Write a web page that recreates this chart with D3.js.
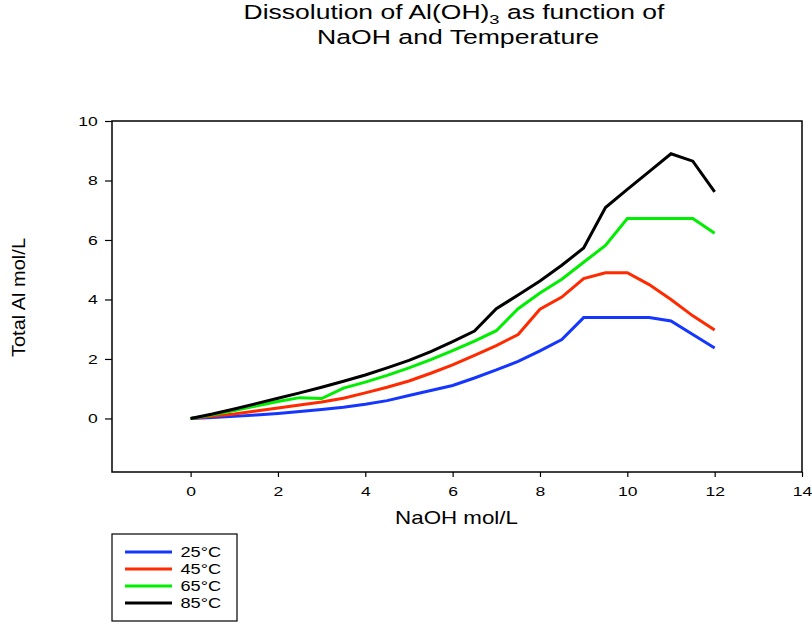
<!DOCTYPE html>
<html><head><meta charset="utf-8">
<script src="https://cdn.jsdelivr.net/npm/d3@7/dist/d3.min.js"></script>
<style>body{margin:0;background:#fff}svg{display:block}text{font-family:"Liberation Sans",Arial,sans-serif;fill:#000}</style>
</head><body>
<svg id="c" width="812" height="625"></svg>
<script>
const naoh = [0,0.5,1,1.5,2,2.5,3,3.5,4,4.5,5,5.5,6,6.5,7,7.5,8,8.5,9,9.5,10,10.5,11,11.5,12];
const t25 = [0,0.03,0.07,0.12,0.17,0.23,0.3,0.38,0.48,0.6,0.77,0.94,1.11,1.36,1.63,1.92,2.27,2.65,3.39,3.39,3.39,3.39,3.28,2.82,2.37];
const t45 = [0,0.07,0.15,0.25,0.35,0.45,0.55,0.68,0.86,1.05,1.26,1.52,1.8,2.12,2.45,2.82,3.67,4.08,4.7,4.9,4.9,4.5,4.0,3.45,2.97];
const t65 = [0,0.12,0.27,0.42,0.57,0.7,0.67,1.02,1.22,1.45,1.7,1.98,2.28,2.6,2.95,3.69,4.22,4.68,5.25,5.82,6.72,6.72,6.72,6.72,6.23];
const t85 = [0,0.15,0.32,0.5,0.68,0.86,1.05,1.25,1.46,1.7,1.95,2.25,2.58,2.94,3.69,4.15,4.62,5.15,5.73,7.09,7.7,8.3,8.9,8.65,7.62];
const seriesNames = ["25°C","45°C","65°C","85°C"];
const seriesColors = ["#1436ff","#ff2a00","#00ee00","#000000"];
const xTicks = [0,2,4,6,8,10,12,14];
const yTicks = [0,2,4,6,8,10];

const series = [t25,t45,t65,t85];
const svg = d3.select("#c");
const L=112,R=802,T=121,B=472;
const SX = 1.3; // horizontal stretch of the reference's lettering
const x = d3.scaleLinear().domain([-1.8,14]).range([L,R]);
const y = d3.scaleLinear().domain([-1.8,10]).range([B,T]);

// frame
svg.append("rect").attr("x",L).attr("y",T).attr("width",R-L).attr("height",B-T)
  .attr("fill","none").attr("stroke","#000").attr("stroke-width",1.5);

const xa = svg.append("g").attr("transform",`translate(0,${B})`)
  .call(d3.axisBottom(x).tickValues(xTicks).tickSize(5).tickSizeOuter(0).tickPadding(9));
const ya = svg.append("g").attr("transform",`translate(${L},0)`)
  .call(d3.axisLeft(y).tickValues(yTicks).tickSize(7).tickSizeOuter(0).tickPadding(4));
[xa,ya].forEach(a=>{
  a.select(".domain").remove();
  a.selectAll("line").attr("stroke","#000").attr("stroke-width",1.2);
  a.selectAll("text").attr("font-size",13.5).attr("font-family","Liberation Sans, Arial, sans-serif").attr("fill","#000")
    .attr("transform",`scale(${SX},1)`);
});

const line = d3.line().x((d,i)=>x(naoh[i])).y(d=>y(d));
series.forEach((s,k)=>{
  svg.append("path").datum(s).attr("d",line).attr("fill","none")
    .attr("stroke",seriesColors[k]).attr("stroke-width",3).attr("stroke-linejoin","miter");
});

// helper: place a centred text and stretch it to a given width
function fitText(sel, cx, cy, width, rotate){
  const w = sel.node().getBBox().width;
  const s = width / w;
  sel.attr("x",0).attr("y",0).attr("text-anchor","middle")
    .attr("transform", rotate ? `translate(${cx},${cy}) rotate(-90) scale(${s},1)` : `translate(${cx},${cy}) scale(${s},1)`);
}

// titles
const title = svg.append("text").attr("font-size",19.5);
title.append("tspan").text("Dissolution of Al(OH)");
title.append("tspan").text("3").attr("font-size",13.5).attr("dy",5);
title.append("tspan").text(" as function of").attr("dy",-5);
fitText(title, 454, 18.5, 422);
const title2 = svg.append("text").attr("font-size",19.5).text("NaOH and Temperature");
fitText(title2, 458, 44, 282);

const xl = svg.append("text").attr("font-size",17.7).text("NaOH mol/L");
fitText(xl, 456.5, 524, 123);
const yl = svg.append("text").attr("font-size",18.3).text("Total Al mol/L");
fitText(yl, 25, 297.5, 119, true);

// legend
svg.append("rect").attr("x",112).attr("y",534).attr("width",125).attr("height",87)
  .attr("fill","none").attr("stroke","#000").attr("stroke-width",1.2);
seriesNames.forEach((n,k)=>{
  const yy = 552 + k*17;
  svg.append("line").attr("x1",125).attr("x2",172).attr("y1",yy).attr("y2",yy)
    .attr("stroke",seriesColors[k]).attr("stroke-width",3);
  svg.append("text").attr("font-size",14).attr("x",0).attr("y",0)
    .attr("transform",`translate(180.5,${yy+5}) scale(${SX},1)`).text(n);
});
</script>
</body></html>
